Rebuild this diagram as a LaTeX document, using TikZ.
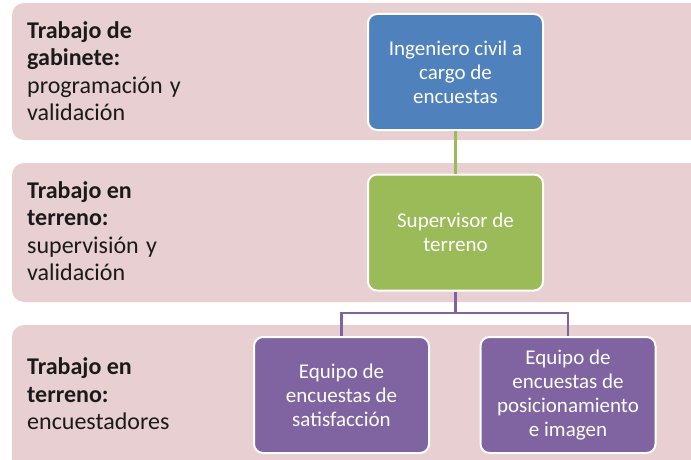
\documentclass[tikz,border=0pt]{standalone}
\usepackage{fontspec}
\setmainfont{Carlito}
\definecolor{bandpink}{HTML}{E8CFD1}
\definecolor{boxblue}{HTML}{4F81BD}
\definecolor{boxgreen}{HTML}{9BBB59}
\definecolor{boxpurple}{HTML}{8064A2}
\definecolor{labeltext}{HTML}{1A1A1A}
\tikzset{
  band/.style={fill=bandpink, rounded corners=12pt},
  lbl/.style={anchor=west, inner sep=0pt, align=left, text=labeltext,
    font=\fontsize{24}{27.5}\selectfont},
  orgbox/.style={draw=white, line width=2pt, rounded corners=9pt,
    minimum width=175pt, minimum height=116pt, align=center, text=white,
    font=\fontsize{21}{24}\selectfont, inner sep=2pt},
  conn/.style={line width=2.8pt}
}
\begin{document}
\begin{tikzpicture}[x=1pt,y=-1pt]
\useasboundingbox (0,0) rectangle (691,460);
% bands
\fill[band] (12,3) rectangle (720,140);
\fill[band] (12,163) rectangle (720,302);
\fill[band] (12,325) rectangle (720,490);
% labels
\node[lbl] (l1) at (27,71) {\textbf{Trabajo de}\\\textbf{gabinete:}\\programación\hspace{0.3em}y\\validación};
\node[lbl] (l2) at (27,231) {\textbf{Trabajo en}\\\textbf{terreno:}\\supervisión\hspace{0.3em}y\\validación};
\node[lbl] (l3) at (27,394) {\textbf{Trabajo en}\\\textbf{terreno:}\\encuestadores};
% boxes
\node[orgbox, fill=boxblue] (ing) at (455.5,72) {Ingeniero civil a\\cargo de\\encuestas};
\node[orgbox, fill=boxgreen] (sup) at (455.5,232.5) {Supervisor de\\terreno};
\node[orgbox, fill=boxpurple] (eq1) at (341.5,395) {Equipo de\\encuestas de\\satisfacción};
\node[orgbox, fill=boxpurple] (eq2) at (568,395) {Equipo de\\encuestas de\\posicionamiento\\e imagen};
% connectors
\coordinate (mid) at (455.5,313);
\draw[conn, boxgreen] (ing.south) -- (sup.north);
\draw[conn, boxpurple] (sup.south) -- (mid) -| (eq1.north);
\draw[conn, boxpurple] (mid) -| (eq2.north);
\end{tikzpicture}
\end{document}
